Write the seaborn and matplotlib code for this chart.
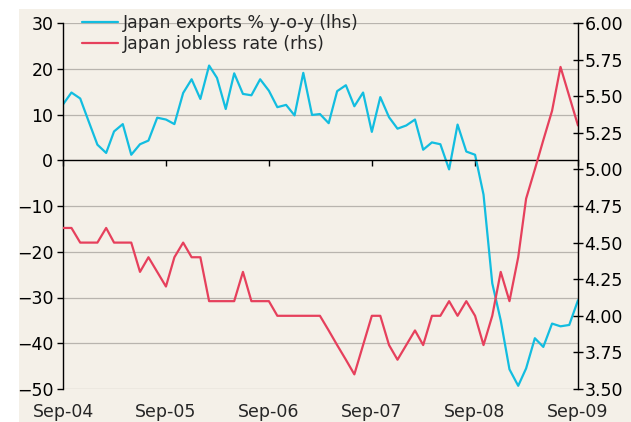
import pandas as pd
import numpy as np
import matplotlib
matplotlib.use("Agg")
import matplotlib.pyplot as plt
import matplotlib.dates as mdates
from matplotlib.patches import Rectangle
import seaborn as sns

# ── Data (monthly, Sep-04 .. Sep-09) ──────────────────────────────────────────
months = pd.date_range("2004-09-01", "2009-09-01", freq="MS")

exports_yoy = [
    12.2, 14.8, 13.5, 8.5, 3.4, 1.6, 6.3, 7.9, 1.2, 3.5,
    4.3, 9.3, 8.9, 7.9, 14.7, 17.7, 13.4, 20.7, 18.0, 11.2,
    19.0, 14.5, 14.2, 17.7, 15.2, 11.6, 12.1, 9.8, 19.1, 9.9,
    10.1, 8.1, 15.1, 16.4, 11.8, 14.8, 6.2, 13.8, 9.4, 6.9,
    7.6, 8.9, 2.3, 3.9, 3.5, -2.0, 7.8, 1.9, 1.2, -7.5,
    -26.9, -35.0, -45.7, -49.3, -45.5, -38.9, -40.8, -35.7, -36.3, -36.0,
    -30.6,
]

jobless_rate = [
    4.6, 4.6, 4.5, 4.5, 4.5, 4.6, 4.5, 4.5, 4.5, 4.3,
    4.4, 4.3, 4.2, 4.4, 4.5, 4.4, 4.4, 4.1, 4.1, 4.1,
    4.1, 4.3, 4.1, 4.1, 4.1, 4.0, 4.0, 4.0, 4.0, 4.0,
    4.0, 3.9, 3.8, 3.7, 3.6, 3.8, 4.0, 4.0, 3.8, 3.7,
    3.8, 3.9, 3.8, 4.0, 4.0, 4.1, 4.0, 4.1, 4.0, 3.8,
    4.0, 4.3, 4.1, 4.4, 4.8, 5.0, 5.2, 5.4, 5.7, 5.5,
    5.3,
]

left_ticks = [-50, -40, -30, -20, -10, 0, 10, 20, 30]
right_ticks = [3.50, 3.75, 4.00, 4.25, 4.50, 4.75, 5.00, 5.25, 5.50, 5.75, 6.00]
year_ticks = pd.date_range("2004-09-01", "2009-09-01", freq="12MS")

label_exports = "Japan exports % y-o-y (lhs)"
label_jobless = "Japan jobless rate (rhs)"

# ── Style ─────────────────────────────────────────────────────────────────────
BG = "#f4f0e8"
CYAN = "#12bde0"
RED = "#e6405c"
GRID = "#b8b4ae"

sns.set_theme(style="white")
plt.rcParams["font.family"] = ["DejaVu Sans"]
plt.rcParams["font.size"] = 12.5

fig = plt.figure(figsize=(6.31, 4.22), dpi=100, facecolor="white")
fig.patches.append(Rectangle((19 / 631, 0), 1 - 19 / 631, 413 / 422,
                             transform=fig.transFigure, facecolor=BG,
                             edgecolor="none", zorder=-10))
ax = fig.add_axes([63 / 631, 1 - 389 / 422, (578 - 63) / 631, (389 - 23) / 422])
ax.set_facecolor("none")
ax2 = ax.twinx()

sns.lineplot(x=months, y=exports_yoy, ax=ax, color=CYAN, linewidth=1.6,
             label=label_exports, legend=False)
sns.lineplot(x=months, y=jobless_rate, ax=ax2, color=RED, linewidth=1.6,
             label=label_jobless, legend=False)

# left axis
ax.set_ylim(-50, 30)
ax.set_yticks(left_ticks)
ax.set_xlim(months[0], months[-1])
for t in left_ticks:
    if t != 0:
        ax.axhline(t, color=GRID, linewidth=0.9, zorder=0.5)
ax.tick_params(axis="y", direction="out", length=4, width=1, pad=3,
               colors="black", labelsize=12.5, left=True)
ax.spines["left"].set_linewidth(1)
ax.spines["left"].set_color("black")
ax.spines["top"].set_visible(False)
ax.spines["right"].set_visible(False)

# zero line carries the year ticks
ax.spines["bottom"].set_position(("data", 0))
ax.spines["bottom"].set_color("black")
ax.spines["bottom"].set_linewidth(1)
ax.set_xticks(year_ticks)
ax.tick_params(axis="x", direction="out", length=4, width=1,
               labelbottom=False, bottom=True, color="black")
ax.set_xlabel("")
ax.set_ylabel("")

# year labels along the bottom edge
sec = ax.secondary_xaxis("bottom")
sec.set_xticks(year_ticks)
sec.xaxis.set_major_formatter(mdates.DateFormatter("%b-%y"))
sec.tick_params(length=0, pad=10, labelsize=12.5)
sec.spines["bottom"].set_visible(False)

# right axis
ax2.set_ylim(3.5, 6.0)
ax2.set_yticks(right_ticks)
ax2.yaxis.set_major_formatter(matplotlib.ticker.FormatStrFormatter("%.2f"))
ax2.tick_params(axis="y", direction="inout", length=7, width=1, pad=1,
                colors="black", labelsize=12.5, right=True)
for s in ["top", "left", "bottom"]:
    ax2.spines[s].set_visible(False)
ax2.spines["right"].set_color("black")
ax2.spines["right"].set_linewidth(1)
ax2.set_ylabel("")

handles = ax.get_lines()[:1] + ax2.get_lines()[:1]
ax2.legend(handles, [label_exports, label_jobless], loc="center left",
           bbox_to_anchor=(82 / 631, 1 - 33.5 / 422), bbox_transform=fig.transFigure,
           frameon=False, borderpad=0, borderaxespad=0, handlelength=2.1,
           handletextpad=0.25, labelspacing=0.2, fontsize=12.5)

fig.savefig("out.png", dpi=100, facecolor="white")
